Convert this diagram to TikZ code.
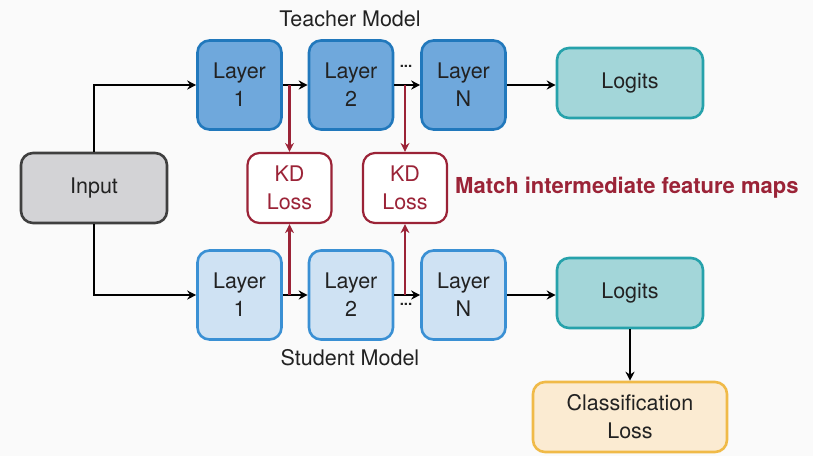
\documentclass[tikz,border=0pt]{standalone}
\usepackage{fontspec}
\setmainfont{TeX Gyre Heros}
\usetikzlibrary{arrows.meta}
\definecolor{bg}{HTML}{FAFAFA}
\definecolor{tfill}{HTML}{6FA8DC}
\definecolor{tdraw}{HTML}{2178BC}
\definecolor{sfill}{HTML}{CFE2F3}
\definecolor{sdraw}{HTML}{3A90D4}
\definecolor{lfill}{HTML}{A3D6D9}
\definecolor{ldraw}{HTML}{26A2AB}
\definecolor{cfill}{HTML}{FBEBD2}
\definecolor{cdraw}{HTML}{F0BA48}
\definecolor{ifill}{HTML}{D3D3D6}
\definecolor{idraw}{HTML}{3F3F3F}
\definecolor{kd}{HTML}{9B2337}
\definecolor{txt}{HTML}{222222}
\tikzset{
  x=1pt,y=-1pt,
  box/.style={rounded corners=12pt,line width=2.6pt,align=center,font=\fontsize{21.5}{28}\selectfont,text=txt,inner sep=0pt},
  tlayer/.style={box,draw=tdraw,fill=tfill,minimum width=84pt,minimum height=89pt},
  slayer/.style={box,draw=sdraw,fill=sfill,minimum width=84pt,minimum height=89pt},
  logit/.style={box,draw=ldraw,fill=lfill,minimum width=146pt,minimum height=70pt},
  kdbox/.style={box,draw=kd,fill=white,text=kd,minimum width=84pt,minimum height=70pt,line width=2.2pt},
  arr/.style={line width=2.4pt,-{Stealth[length=9pt,width=9pt]}},
  karr/.style={line width=2.2pt,draw=kd,-{Stealth[length=9pt,width=9pt]},color=kd},
  lbl/.style={font=\fontsize{21.5}{26}\selectfont,text=txt},
  dots/.style={font=\bfseries\fontsize{15}{15}\selectfont,text=txt,inner sep=0pt}
}
\begin{document}
\begin{tikzpicture}
\fill[bg] (0,0) rectangle (813,456);
\useasboundingbox (0,0) rectangle (813,456);
% teacher
\node[tlayer] (t1) at (239.5,85) {Layer\\1};
\node[tlayer] (t2) at (351,85) {Layer\\2};
\node[tlayer] (tn) at (463.5,85) {Layer\\N};
\node[logit] (tl) at (630,83) {Logits};
\node[lbl] (tm) at (350,19) {Teacher Model};
% student
\node[slayer] (s1) at (239.5,295) {Layer\\1};
\node[slayer] (s2) at (351,295) {Layer\\2};
\node[slayer] (sn) at (463.5,295) {Layer\\N};
\node[logit] (sl) at (630,293) {Logits};
\node[lbl] (sm) at (350,358) {Student Model};
% input
\node[box,draw=idraw,fill=ifill,minimum width=146pt,minimum height=70pt] (in) at (94,188) {Input};
% KD
\node[kdbox] (k1) at (289.5,188) {KD\\Loss};
\node[kdbox] (k2) at (405,188) {KD\\Loss};
\node[font=\bfseries\fontsize{22}{26}\selectfont,text=kd,anchor=west,inner sep=0pt] (mt) at (455,188) {Match intermediate feature maps};
% classification
\node[box,draw=cdraw,fill=cfill,minimum width=194pt,minimum height=70pt] (cl) at (630,417) {Classification\\Loss};
% coordinates
\coordinate (tj1) at (289.5,85);
\coordinate (tj2) at (405,85);
\coordinate (sj1) at (289.5,295);
\coordinate (sj2) at (405,295);
% input arrows
\draw[arr] (in.north) |- (t1.west);
\draw[arr] (in.south) |- (s1.west);
% layer arrows
\draw[arr] (t1.east) -- (t2.west);
\draw[arr] (t2.east) -- (tn.west);
\draw[arr] (tn.east) -- (tn.east -| tl.west);
\draw[arr] (s1.east) -- (s2.west);
\draw[arr] (s2.east) -- (sn.west);
\draw[arr] (sn.east) -- (sn.east -| sl.west);
\draw[arr] (sl.south) -- (cl.north);
% KD arrows
\draw[karr] (tj1) -- (k1.north);
\draw[karr] (tj2) -- (k2.north);
\draw[karr] (sj1) -- (k1.south);
\draw[karr] (sj2) -- (k2.south);
% dots
\node[dots] (d1) at (406,66) {...};
\node[dots] (d2) at (406,304) {...};
\end{tikzpicture}
\end{document}
